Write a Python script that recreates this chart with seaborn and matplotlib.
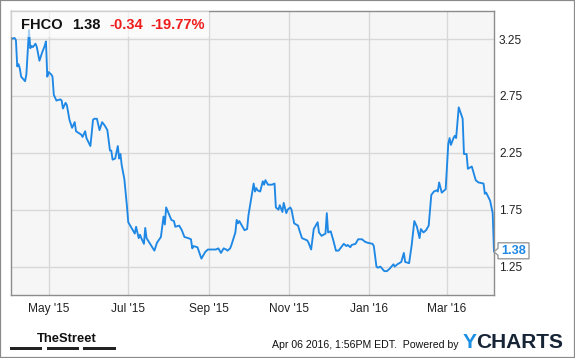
import matplotlib
matplotlib.use("Agg")
import matplotlib.pyplot as plt
import matplotlib.dates as mdates
from matplotlib.patches import Rectangle, Polygon
import seaborn as sns
import pandas as pd

# ---------------- data ----------------
ticker = "FHCO"
last_price = "1.38"
change = "-0.34"
change_pct = "-19.77%"

dates = [
    "2015-04-02", "2015-04-05", "2015-04-06", "2015-04-07", "2015-04-08", "2015-04-09",
    "2015-04-10", "2015-04-13", "2015-04-14", "2015-04-16", "2015-04-17", "2015-04-18",
    "2015-04-19", "2015-04-21", "2015-04-22", "2015-04-24", "2015-04-26", "2015-04-28",
    "2015-04-29", "2015-04-30", "2015-05-01", "2015-05-03", "2015-05-04", "2015-05-05",
    "2015-05-07", "2015-05-10", "2015-05-11", "2015-05-12", "2015-05-14", "2015-05-15",
    "2015-05-17", "2015-05-19", "2015-05-21", "2015-05-22", "2015-05-26", "2015-05-27",
    "2015-05-29", "2015-05-30", "2015-06-02", "2015-06-03", "2015-06-04", "2015-06-05",
    "2015-06-07", "2015-06-09", "2015-06-11", "2015-06-13", "2015-06-15", "2015-06-17",
    "2015-06-18", "2015-06-19", "2015-06-21", "2015-06-23", "2015-06-24", "2015-06-25",
    "2015-06-26", "2015-06-28", "2015-06-30", "2015-07-01", "2015-07-04", "2015-07-06",
    "2015-07-07", "2015-07-09", "2015-07-10", "2015-07-11", "2015-07-13", "2015-07-14",
    "2015-07-15", "2015-07-21", "2015-07-23", "2015-07-26", "2015-07-28", "2015-07-29",
    "2015-07-30", "2015-08-03", "2015-08-05", "2015-08-06", "2015-08-09", "2015-08-11",
    "2015-08-13", "2015-08-16", "2015-08-18", "2015-08-19", "2015-08-20", "2015-08-23",
    "2015-08-26", "2015-08-29", "2015-08-31", "2015-09-03", "2015-09-06", "2015-09-08",
    "2015-09-10", "2015-09-12", "2015-09-14", "2015-09-15", "2015-09-17", "2015-09-18",
    "2015-09-21", "2015-09-22", "2015-09-23", "2015-09-24", "2015-09-28", "2015-09-30",
    "2015-10-01", "2015-10-05", "2015-10-06", "2015-10-07", "2015-10-08", "2015-10-10",
    "2015-10-12", "2015-10-13", "2015-10-14", "2015-10-16", "2015-10-19", "2015-10-21",
    "2015-10-22", "2015-10-24", "2015-10-25", "2015-10-27", "2015-10-28", "2015-10-30",
    "2015-10-31", "2015-11-02", "2015-11-03", "2015-11-05", "2015-11-08", "2015-11-09",
    "2015-11-11", "2015-11-15", "2015-11-16", "2015-11-18", "2015-11-20", "2015-11-23",
    "2015-11-24", "2015-11-26", "2015-11-29", "2015-11-30", "2015-12-01", "2015-12-03",
    "2015-12-05", "2015-12-07", "2015-12-09", "2015-12-13", "2015-12-15", "2015-12-16",
    "2015-12-18", "2015-12-19", "2015-12-22", "2015-12-24", "2015-12-27", "2015-12-29",
    "2015-12-31", "2016-01-04", "2016-01-05", "2016-01-07", "2016-01-08", "2016-01-10",
    "2016-01-13", "2016-01-15", "2016-01-17", "2016-01-20", "2016-01-21", "2016-01-23",
    "2016-01-26", "2016-01-28", "2016-01-29", "2016-02-01", "2016-02-03", "2016-02-05",
    "2016-02-07", "2016-02-09", "2016-02-10", "2016-02-12", "2016-02-14", "2016-02-16",
    "2016-02-18", "2016-02-20", "2016-02-22", "2016-02-23", "2016-02-24", "2016-02-26",
    "2016-02-29", "2016-03-02", "2016-03-03", "2016-03-04", "2016-03-06", "2016-03-07",
    "2016-03-08", "2016-03-10", "2016-03-13", "2016-03-14", "2016-03-16", "2016-03-17",
    "2016-03-20", "2016-03-23", "2016-03-25", "2016-03-29", "2016-03-30", "2016-03-31",
    "2016-04-03", "2016-04-05", "2016-04-06",
]

prices = [
    3.25, 3.26, 3.24, 3.01, 3.03, 2.99,
    2.92, 2.88, 2.94, 3.33, 3.17, 3.19,
    3.18, 3.21, 3.18, 3.06, 3.13, 3.19,
    3.23, 2.92, 2.96, 2.94, 2.92, 2.76,
    2.71, 2.72, 2.71, 2.64, 2.69, 2.67,
    2.54, 2.47, 2.52, 2.44, 2.41, 2.39,
    2.44, 2.38, 2.31, 2.42, 2.54, 2.55,
    2.55, 2.45, 2.52, 2.49, 2.45, 2.27,
    2.27, 2.19, 2.20, 2.31, 2.20, 2.24,
    2.14, 2.02, 1.78, 1.64, 1.58, 1.54,
    1.60, 1.50, 1.53, 1.50, 1.45, 1.59,
    1.50, 1.39, 1.46, 1.51, 1.69, 1.62,
    1.77, 1.66, 1.65, 1.60, 1.61, 1.57,
    1.51, 1.50, 1.49, 1.41, 1.43, 1.42,
    1.32, 1.38, 1.40, 1.40, 1.40, 1.41,
    1.37, 1.41, 1.40, 1.39, 1.41, 1.44,
    1.55, 1.66, 1.63, 1.65, 1.57, 1.58,
    1.70, 1.98, 1.91, 1.94, 1.92, 1.91,
    2.00, 1.97, 2.01, 1.97, 1.97, 1.98,
    1.77, 1.75, 1.79, 1.73, 1.81, 1.72,
    1.75, 1.77, 1.75, 1.63, 1.61, 1.57,
    1.50, 1.48, 1.46, 1.40, 1.58, 1.64,
    1.55, 1.52, 1.54, 1.72, 1.55, 1.56,
    1.48, 1.39, 1.39, 1.45, 1.43, 1.44,
    1.42, 1.44, 1.45, 1.49, 1.49, 1.47,
    1.46, 1.45, 1.43, 1.25, 1.24, 1.25,
    1.21, 1.21, 1.23, 1.27, 1.25, 1.27,
    1.29, 1.37, 1.29, 1.28, 1.44, 1.65,
    1.60, 1.50, 1.58, 1.55, 1.57, 1.61,
    1.88, 1.91, 1.92, 1.91, 1.99, 1.90,
    1.93, 2.33, 2.38, 2.32, 2.38, 2.40,
    2.38, 2.65, 2.55, 2.24, 2.24, 2.11,
    2.13, 2.01, 1.99, 1.98, 1.89, 1.90,
    1.83, 1.72, 1.38,
]

y_ticks = [1.25, 1.75, 2.25, 2.75, 3.25]
y_tick_labels = ["1.25", "1.75", "2.25", "2.75", "3.25"]
x_start, x_end = "2015-04-02", "2016-04-06"
footer_text = "Apr 06 2016, 1:56PM EDT.  Powered by"
brand_left = "TheStreet"

# ---------------- style ----------------
sns.set_theme(style="whitegrid")
plt.rcParams['font.family'] = ['Liberation Sans', 'DejaVu Sans']

LINE = "#1f88e5"
W, H = 575, 358
fig = plt.figure(figsize=(W / 100, H / 100), dpi=100)
fig.patch.set_facecolor("white")


def fx(x):
    return x / W


def fy(y):
    return 1 - y / H


ax = fig.add_axes([fx(10.7), fy(295), (494 - 10.7) / W, (295 - 10.7) / H])

df = pd.DataFrame({"date": pd.to_datetime(dates), "price": prices})
sns.lineplot(data=df, x="date", y="price", ax=ax, color=LINE, linewidth=1.35)

ax.set_xlim(pd.Timestamp(x_start), pd.Timestamp(x_end))
ax.set_ylim(1.0, 3.5)
ax.set_facecolor("#f6f6f6")
ax.grid(True, color="#d8d8d8", linewidth=1.0)
ax.xaxis.set_major_locator(mdates.MonthLocator(bymonth=[1, 3, 5, 7, 9, 11]))
ax.xaxis.set_major_formatter(mdates.DateFormatter("%b '%y"))
ax.yaxis.tick_right()
ax.set_yticks(y_ticks)
ax.set_yticklabels(y_tick_labels)
ax.tick_params(axis='both', length=0, labelsize=8.6, colors="#222222")
ax.tick_params(axis='x', pad=6.0)
ax.tick_params(axis='y', pad=3.6)
ax.set_xlabel("")
ax.set_ylabel("")
for s in ax.spines.values():
    s.set_visible(True)
    s.set_color("#8c8c8c")
    s.set_linewidth(1.0)

# translucent header box
ax.add_patch(Rectangle((fx(10.7), fy(37)), (209 - 10.7) / W, (37 - 10.7) / H,
                       transform=fig.transFigure, facecolor="white", alpha=0.6,
                       edgecolor="none", zorder=3))

# header texts
fig.text(fx(21.3), fy(29.3), ticker, fontsize=10.5, fontweight="bold",
         color="#111111", va="baseline", ha="left")
fig.text(fx(72.3), fy(29.3), last_price, fontsize=10.5, fontweight="bold",
         color="#111111", va="baseline", ha="left")
fig.text(fx(109), fy(29.3), change, fontsize=10.5, fontweight="bold",
         color="#ee1c1c", va="baseline", ha="left")
fig.text(fx(150), fy(29.3), change_pct, fontsize=10.5, fontweight="bold",
         color="#ee1c1c", va="baseline", ha="left")

# last value flag anchored at last data point
fig.canvas.draw()
px, py = ax.transData.transform((mdates.date2num(df["date"].iloc[-1]), df["price"].iloc[-1]))
lx, ly = px, H - py
flag = [(lx, ly), (lx + 4, ly - 3.5), (lx + 4, ly - 9), (lx + 35, ly - 9),
        (lx + 35, ly + 7), (lx + 4, ly + 7), (lx + 4, ly + 3.5)]
fig.patches.append(Polygon([(fx(a), fy(b)) for a, b in flag], closed=True,
                           transform=fig.transFigure, facecolor="white",
                           edgecolor="#9a9a9a", linewidth=1.0, zorder=5))
fig.text(fx(lx + 19.5), fy(ly - 0.8), last_price, fontsize=9.2, fontweight="bold",
         color=LINE, ha="center", va="center", zorder=6)

# footer: TheStreet
fig.text(fx(36.5), fy(342), brand_left, fontsize=9.4, fontweight="bold",
         color="#111111", va="baseline", ha="left")
for x0, x1 in [(10, 42), (47, 79), (83, 116)]:
    fig.patches.append(Rectangle((fx(x0), fy(350)), (x1 - x0) / W, 3 / H,
                                 transform=fig.transFigure, facecolor="#222222",
                                 edgecolor="none"))

# footer: timestamp + YCHARTS
fig.text(fx(271.7), fy(348.3), footer_text, fontsize=7.6, color="#111111",
         va="baseline", ha="left")
fig.text(fx(463), fy(348), "Y", fontsize=15.0, fontweight="bold",
         color="#1a8fe3", va="baseline", ha="left")
fig.text(fx(476.5), fy(348), "CHARTS", fontsize=15.0, fontweight="bold",
         color="#172436", va="baseline", ha="left")

# outer border
fig.patches.append(Rectangle((0, 0), 1, 1, transform=fig.transFigure, fill=False,
                             edgecolor="#8a8a8a", linewidth=1.6))

fig.savefig("out.png", dpi=100)
